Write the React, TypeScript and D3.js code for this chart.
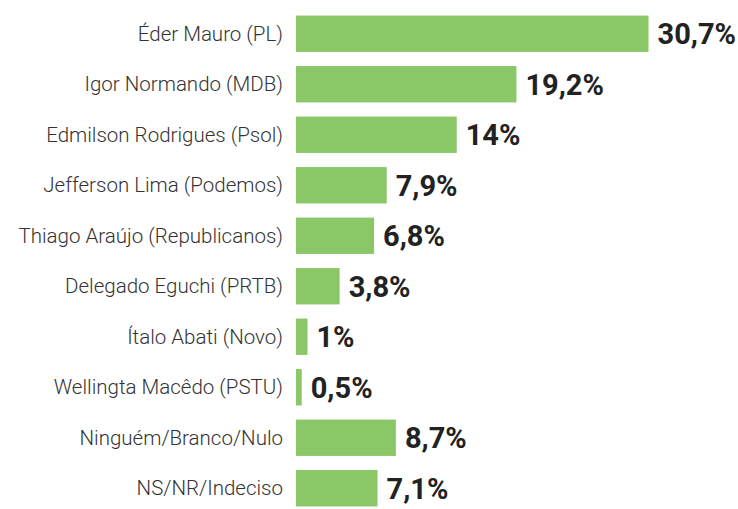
import React from "react";
import * as d3 from "d3";

const categories = [
  "Éder Mauro (PL)",
  "Igor Normando (MDB)",
  "Edmilson Rodrigues (Psol)",
  "Jefferson Lima (Podemos)",
  "Thiago Araújo (Republicanos)",
  "Delegado Eguchi (PRTB)",
  "Ítalo Abati (Novo)",
  "Wellingta Macêdo (PSTU)",
  "Ninguém/Branco/Nulo",
  "NS/NR/Indeciso",
];
const values = [30.7, 19.2, 14, 7.9, 6.8, 3.8, 1, 0.5, 8.7, 7.1];
const valueLabels = ["30,7%", "19,2%", "14%", "7,9%", "6,8%", "3,8%", "1%", "0,5%", "8,7%", "7,1%"];

export default function App() {
  const W = 738, H = 509;
  const x0 = 296;
  const x = d3.scaleLinear().domain([0, 30.7]).range([x0, 648.5]);
  const y = d3
    .scaleBand<number>()
    .domain(d3.range(categories.length))
    .range([8.5, 513.5])
    .paddingInner(0.28)
    .paddingOuter(0.14);
  return (
    <svg
      width={W}
      height={H}
      style={{ position: "absolute", left: 0, top: 0, background: "#fff" }}
    >
      {categories.map((c, i) => {
        const yc = (y(i) as number) + y.bandwidth() / 2;
        return (
          <g key={c}>
            <text
              x={283}
              y={yc}
              dy="0.35em"
              textAnchor="end"
              fontFamily="Roboto"
              fontWeight={300}
              fontSize={20.5}
              fill="#333"
            >
              {c}
            </text>
            <rect
              x={x0}
              y={y(i)}
              width={x(values[i]) - x0}
              height={y.bandwidth()}
              fill="#89c767"
            />
            <text
              x={x(values[i]) + 9}
              y={yc}
              dy="0.36em"
              fontFamily="Roboto"
              fontWeight={700}
              fontSize={29}
              fill="#222"
            >
              {valueLabels[i]}
            </text>
          </g>
        );
      })}
    </svg>
  );
}
